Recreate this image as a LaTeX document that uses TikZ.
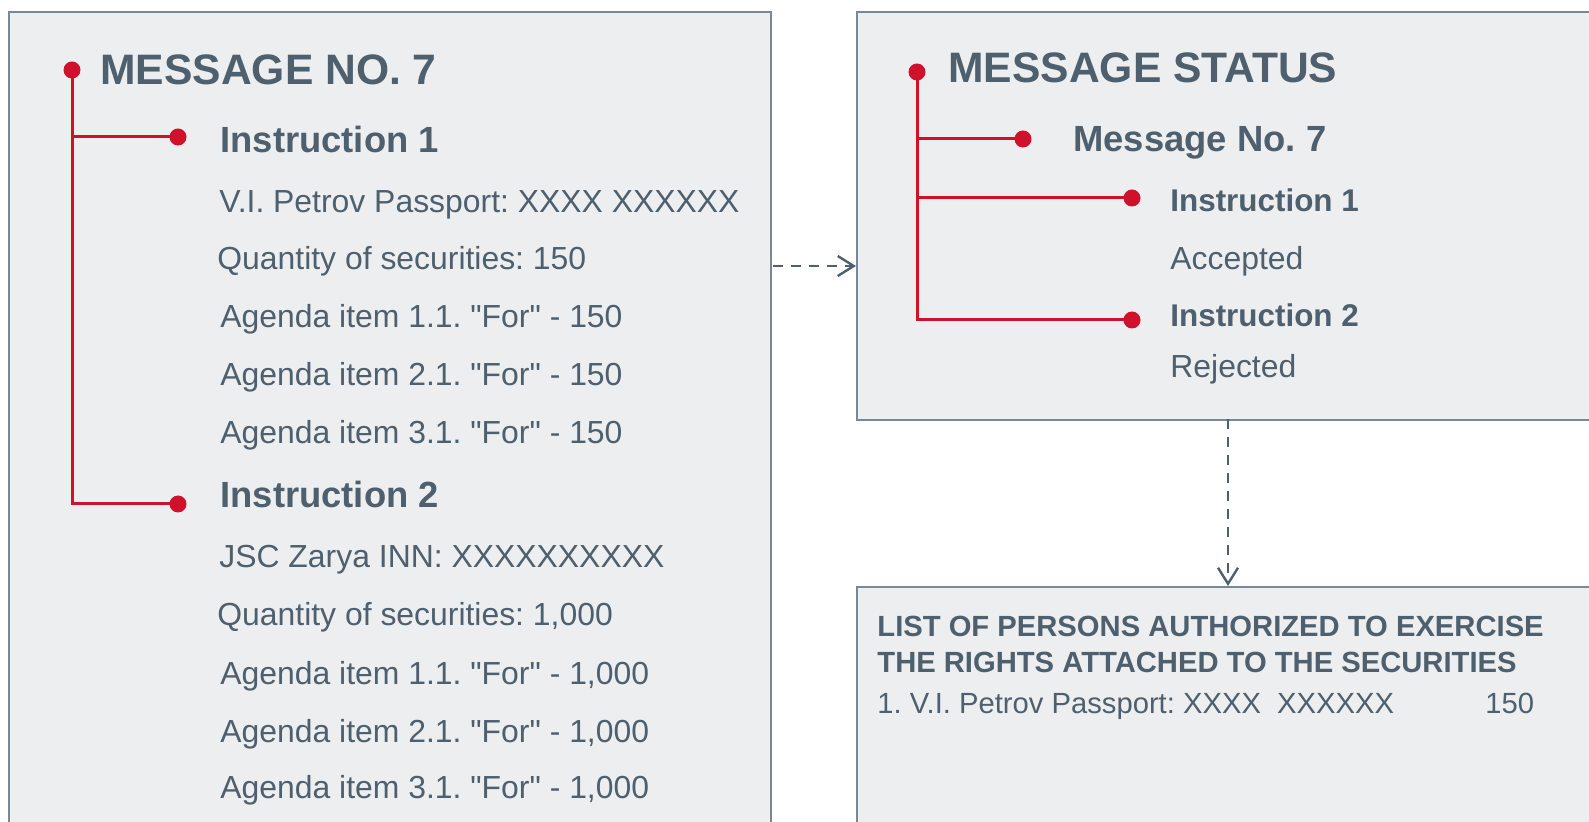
\documentclass[tikz,border=0pt]{standalone}
\usepackage{fontspec}
\setmainfont{Liberation Sans}
\usetikzlibrary{arrows.meta}
\frenchspacing
\definecolor{slate}{HTML}{4E5F6D}
\definecolor{boxfill}{HTML}{EDEEF0}
\definecolor{boxline}{HTML}{7A8794}
\definecolor{pinred}{HTML}{D0112B}
\begin{document}
\begin{tikzpicture}[x=0.5pt,y=-0.5pt]
                \tikzstyle{panel}=[draw=boxline,line width=1.1pt,fill=boxfill,anchor=north west,inner sep=0pt]
                \tikzstyle{reddot}=[circle,fill=pinred,inner sep=0pt,minimum size=8.5pt]
                \tikzstyle{stem}=[draw=pinred,line width=1.5pt]
                \tikzstyle{txt}=[anchor=base west,inner sep=0pt,text=slate,font=\fontsize{15.95}{19}\selectfont]
                \tikzstyle{headtxt}=[txt,font=\fontsize{21.3}{25}\selectfont\bfseries]
                \tikzstyle{subtxt}=[txt,font=\fontsize{18.2}{22}\selectfont\bfseries]
                \tikzstyle{itemtxt}=[txt,font=\fontsize{15.7}{19}\selectfont\bfseries]
                \tikzstyle{listhead}=[txt,font=\fontsize{14.6}{17}\selectfont\bfseries]
                \tikzstyle{listtxt}=[txt,font=\fontsize{14.6}{17}\selectfont]
                \tikzstyle{flow}=[draw=slate,line width=1.2pt,dash pattern=on 5pt off 4pt,-{Straight Barb[length=8pt,width=10pt]}]
                \useasboundingbox (0,0) rectangle (1589,822);
                \clip (0,0) rectangle (1589,822);
                \begin{scope}
                    \node[panel,minimum width=381pt,minimum height=445pt] (msgbox) at (8,11) {};
                    \node[reddot] (m0) at (72,70) {};
                    \node[reddot] (m1) at (178,137) {};
                    \node[reddot] (m2) at (178,504) {};
                    \draw[stem] (m0.center) |- (m1.center);
                    \draw[stem] (m0.center) |- (m2.center);
                    \node[headtxt] (msgtitle) at (100,85) {MESSAGE NO. 7};
                    \node[subtxt] (ins1) at (220,153) {Instruction 1};
                    \node[txt] (ins1a) at (219,213) {V.I. Petrov Passport: XXXX XXXXXX};
                    \node[txt] (ins1b) at (217,270) {Quantity of securities: 150};
                    \node[txt] (ins1c) at (220,328) {Agenda item 1.1. \textquotedbl For\textquotedbl\ - 150};
                    \node[txt] (ins1d) at (220,386) {Agenda item 2.1. \textquotedbl For\textquotedbl\ - 150};
                    \node[txt] (ins1e) at (220,444) {Agenda item 3.1. \textquotedbl For\textquotedbl\ - 150};
                    \node[subtxt] (ins2) at (220,508) {Instruction 2};
                    \node[txt] (ins2a) at (219,568) {JSC Zarya INN: XXXXXXXXXX};
                    \node[txt] (ins2b) at (217,625) {Quantity of securities: 1,000};
                    \node[txt] (ins2c) at (220,684) {Agenda item 1.1. \textquotedbl For\textquotedbl\ - 1,000};
                    \node[txt] (ins2d) at (220,742) {Agenda item 2.1. \textquotedbl For\textquotedbl\ - 1,000};
                    \node[txt] (ins2e) at (220,798) {Agenda item 3.1. \textquotedbl For\textquotedbl\ - 1,000};
                \end{scope}
                \begin{scope}
                    \node[panel,minimum width=397pt,minimum height=204pt] (statbox) at (856,11) {};
                    \node[reddot] (s0) at (917,72) {};
                    \node[reddot] (s1) at (1023,139) {};
                    \node[reddot] (s2) at (1132,198) {};
                    \node[reddot] (s3) at (1132,320) {};
                    \draw[stem] (s0.center) |- (s1.center);
                    \draw[stem] (s0.center) |- (s2.center);
                    \draw[stem] (s0.center) |- (s3.center);
                    \node[headtxt] (stattitle) at (948,83) {MESSAGE STATUS};
                    \node[subtxt] (statmsg) at (1073,152) {Message No. 7};
                    \node[itemtxt] (stat1) at (1170,212) {Instruction 1};
                    \node[txt] (stat1a) at (1170,270) {Accepted};
                    \node[itemtxt] (stat2) at (1170,327) {Instruction 2};
                    \node[txt] (stat2a) at (1170,378) {Rejected};
                \end{scope}
                \begin{scope}
                    \node[panel,minimum width=397pt,minimum height=160pt] (listbox) at (856,586) {};
                    \node[listhead] (list1) at (877,637) {LIST OF PERSONS AUTHORIZED TO EXERCISE};
                    \node[listhead] (list2) at (877,672) {THE RIGHTS ATTACHED TO THE SECURITIES};
                    \node[listtxt] (row1) at (877,713) {1. V.I. Petrov Passport: XXXX\ \ XXXXXX};
                    \node[listtxt] (row1n) at (1485,713) {150};
                \end{scope}
                \coordinate (a1) at (773,266);
                \draw[flow] (a1) -- (a1 -| statbox.west);
                \coordinate (a2) at (1228,419);
                \draw[flow] (a2) -- (a2 |- listbox.north);
            \end{tikzpicture}
\end{document}
